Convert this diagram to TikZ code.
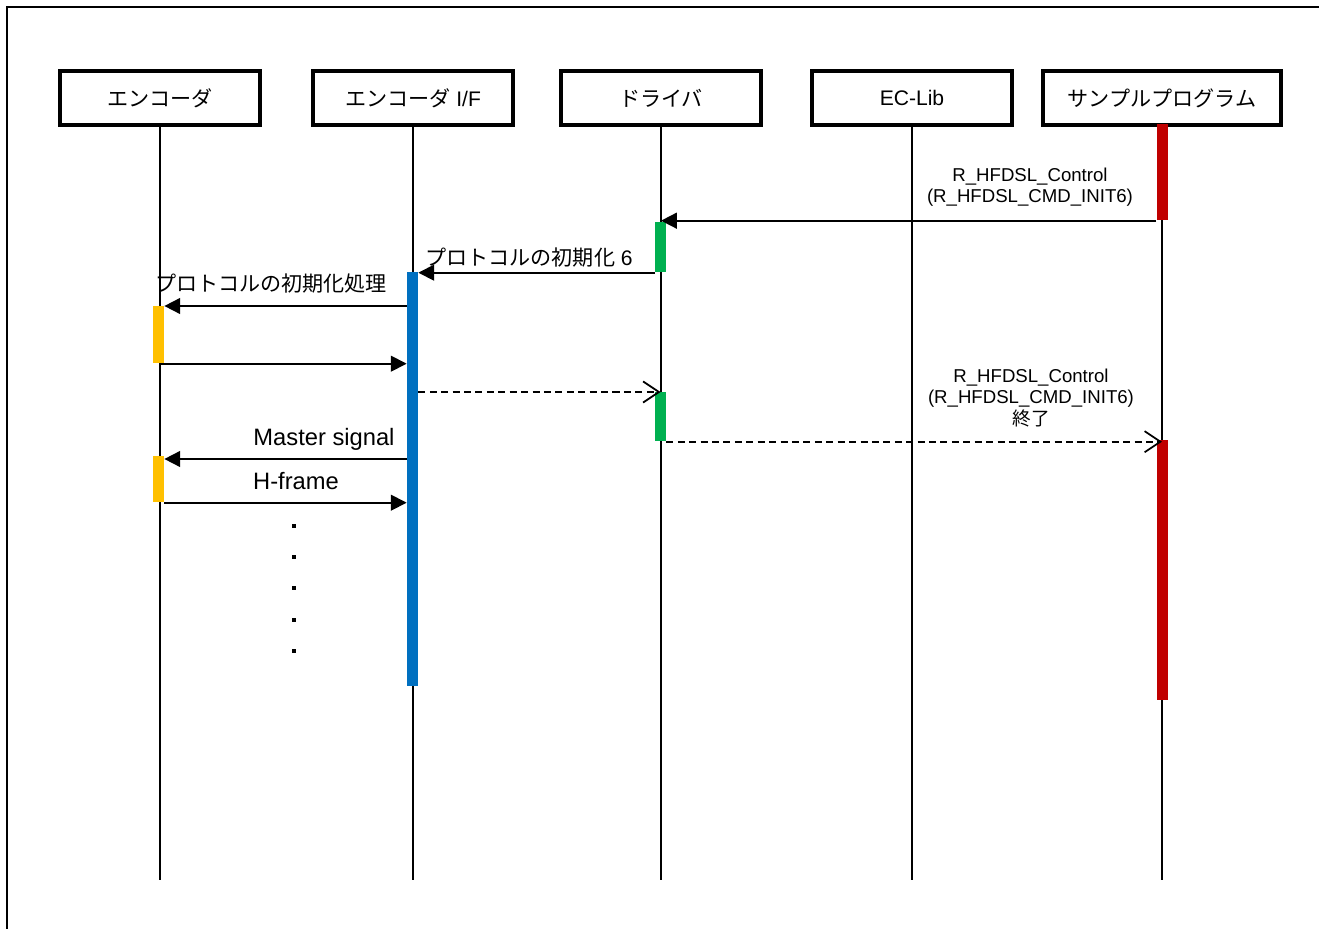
\documentclass[tikz,border=0pt]{standalone}
\usepackage{fontspec}
\setmainfont{Liberation Sans}
\newfontfamily\jpfont{Noto Sans CJK JP}
\usetikzlibrary{arrows.meta}
\usetikzlibrary{shapes}

\definecolor{actred}{HTML}{C00000}
\definecolor{actgreen}{HTML}{00B050}
\definecolor{actblue}{HTML}{0070C0}
\definecolor{actyellow}{HTML}{FFC000}

\begin{document}
\begin{tikzpicture}[x=0.02cm, y=-0.02cm,
  obj/.style={draw, line width=2pt, rectangle, minimum width=4cm,
    minimum height=1.08cm, font=\fontsize{12}{14}\selectfont},
  life/.style={line width=0.8pt},
  act/.style={rectangle, inner sep=0pt, minimum width=0.22cm, anchor=north},
  msg/.style={line width=1pt, -{Triangle[length=9pt,width=9pt]}},
  ret/.style={line width=1pt, dash pattern=on 4pt off 2.5pt,
    -{Straight Barb[length=9pt,width=12pt]}},
  lbl/.style={font=\fontsize{13.5}{16}\selectfont, inner sep=0pt},
  jplbl/.style={font=\fontsize{12}{14}\selectfont, inner sep=0pt},
  small/.style={font=\fontsize{10.6}{12.2}\selectfont, align=center, inner sep=0pt},
  dot/.style={fill, rectangle, inner sep=0pt, minimum size=0.08cm}]
\useasboundingbox (0,0) rectangle (1319,929);

% frame
\coordinate (fTL) at (7,7);
\coordinate (fTR) at (1319,7);
\coordinate (fBL) at (7,929);
\draw[line width=1.1pt] (fBL) -- (fTL) -- (fTR);

% objects
\node[obj] (enc) at (160,98) {\jpfont エンコーダ};
\node[obj] (encif) at (413,98) {{\jpfont エンコーダ} I/F};
\node[obj] (drv) at (661,98) {\jpfont ドライバ};
\node[obj] (eclib) at (912,98) {EC-Lib};
\node[obj, minimum width=4.76cm] (smp) at (1162,98) {\jpfont サンプルプログラム};

% lifelines
\coordinate (encE) at (160,880);
\coordinate (encifE) at (413,880);
\coordinate (drvE) at (661,880);
\coordinate (eclibE) at (912,880);
\coordinate (smpE) at (1162,880);
\draw[life] (enc) -- (encE);
\draw[life] (encif) -- (encifE);
\draw[life] (drv) -- (drvE);
\draw[life] (eclib) -- (eclibE);
\draw[life] (smp) -- (smpE);

% activations
\node[act, fill=actred, minimum height=1.92cm] (smpA) at (1162,124) {};
\node[act, fill=actgreen, minimum height=1.0cm] (drvA) at (660.5,222) {};
\node[act, fill=actblue, minimum height=8.28cm] (ifA) at (412.5,272) {};
\node[act, fill=actyellow, minimum height=1.14cm] (encA) at (158.5,306) {};
\node[act, fill=actgreen, minimum height=0.98cm] (drvB) at (660.5,392) {};
\node[act, fill=actred, minimum height=5.2cm] (smpB) at (1162,440) {};
\node[act, fill=actyellow, minimum height=0.92cm] (encB) at (158.5,456) {};

% messages
\draw[msg] (smpA.south west) -- (smpA.south west -| drv.south);
\draw[msg] (drvA.south west) -- (drvA.south west -| ifA.east);
\draw[msg] (ifA.west |- encA.north) -- (encA.north east);
\draw[msg] (encA.south -| enc.south) -- (encA.south -| ifA.west);
\draw[ret] (ifA.east |- drvB.north) -- (drvB.north);
\draw[ret] (drvB.south east) -- (drvB.south east -| smpB.north);
\draw[msg] ([yshift=-0.06cm]ifA.west |- encB.north) -- ([yshift=-0.06cm]encB.north east);
\draw[msg] (encB.south east) -- (ifA.west |- encB.south);

% labels
\node[small] (m1) at (1030,187) {R\_HFDSL\_Control\\(R\_HFDSL\_CMD\_INIT6)};
\node[jplbl] (m2) at (529,258) {{\jpfont プロトコルの初期化} 6};
\node[jplbl] (m3) at (271,284) {\jpfont プロトコルの初期化処理};
\node[small] (m6) at (1031,398) {R\_HFDSL\_Control\\(R\_HFDSL\_CMD\_INIT6)\\{\jpfont 終了}};
\node[lbl] (m7) at (324,439) {Master signal};
\node[lbl] (m8) at (296,481) {H-frame};

% continuation
\foreach \yy [count=\i] in {526,557,588,620,651}
  \node[dot] (d\i) at (294,\yy) {};
\end{tikzpicture}
\end{document}
